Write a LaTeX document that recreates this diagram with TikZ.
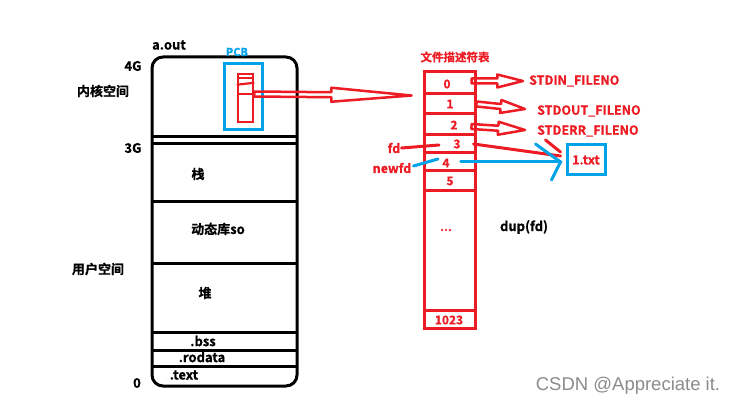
\documentclass[tikz,border=0pt]{standalone}
\usepackage{fontspec}
\setmainfont{Noto Sans CJK SC}[BoldFont={Noto Sans CJK SC Bold}, BoldFeatures={FakeBold=0.8}]
\newfontfamily\wmfont{Liberation Sans}
\usetikzlibrary{calc}
\definecolor{pred}{RGB}{237,28,36}
\definecolor{pblue}{RGB}{0,162,232}
\definecolor{wmgray}{RGB}{140,140,140}
\newcommand\hollowarr[5]{%
  \coordinate (nk) at ($(#1)!#3!(#2)$);
  \draw[pred, line width=2.5pt, line join=round]
    ($(#1)!#4!90:(#2)$) -- ($(nk)!#4!90:(#2)$) -- ($(nk)!#5!90:(#2)$) -- (#2)
    -- ($(nk)!#5!-90:(#2)$) -- ($(nk)!#4!-90:(#2)$) -- ($(#1)!#4!-90:(#2)$) -- cycle;
}
\tikzset{
  bk/.style={font=\fontsize{13}{15}\selectfont\bfseries, text=black, inner sep=1pt},
  rd/.style={font=\fontsize{12.5}{15}\selectfont\bfseries, text=pred, inner sep=1pt},
  num/.style={font=\fontsize{12}{14}\selectfont\bfseries, text=pred, inner sep=1pt},
  cell/.style={draw=pred, line width=3pt, minimum width=51pt, inner sep=0pt},
  memline/.style={line width=3pt, black},
  redln/.style={pred, line width=3pt, line cap=round},
  blueln/.style={pblue, line width=3pt, line cap=round},
}
\begin{document}
\begin{tikzpicture}[x=1pt, y=-1pt]
\useasboundingbox[fill=white] (0,0) rectangle (736,406);
% memory box
\draw[memline, rounded corners=11pt] (152,57) rectangle (297,386);
\foreach \yy in {137,144,202,263,332,350,366} \draw[memline] (152,\yy) -- (298,\yy);
% left labels
\node[bk] (aout) at (169,45) {a.out};
\node[bk] (g4) at (133,66) {4G};
\node[bk] (kern) at (103,91) {内核空间};
\node[bk] (g3) at (133,148) {3G};
\node[bk] (user) at (98,269) {用户空间};
\node[bk] (g0) at (137,383) {0};
% segments
\node[bk] (stack) at (198,174) {栈};
\node[bk] (dso) at (218,229) {动态库so};
\node[bk] (heap) at (205,293) {堆};
\node[bk] (bss) at (203,341) {.bss};
\node[bk] (rodata) at (202,357) {.rodata};
\node[bk] (text) at (184,375) {.text};
% PCB
\node[font=\fontsize{11}{13}\selectfont\bfseries, text=pblue, inner sep=1pt] (pcbl) at (237,52) {PCB};
\node[draw=pblue, line width=3pt, minimum width=38pt, minimum height=66pt, inner sep=0pt] (pcb) at (243.5,96.5) {};
\node[draw=pred, line width=2.5pt, minimum width=15pt, minimum height=48pt, inner sep=0pt] (pcbin) at (245.5,98) {};
\draw[pred, line width=2.2pt] ($(pcbin.north west)+(0,5)$) -- ($(pcbin.north east)+(0,5)$);
\draw[pred, line width=2.2pt] ($(pcbin.north west)+(0,12)$) -- ($(pcbin.north east)+(0,10)$);
\draw[pred, line width=2.2pt] ($(pcbin.north west)+(0,21)$) -- ($(pcbin.north east)+(0,21)$);
% table
\node[font=\fontsize{11.5}{14}\selectfont\bfseries, text=pred, inner sep=1pt] (ttl) at (455,57) {文件描述符表};
\node[cell, minimum height=22pt] (r0) at (449.5,83) {};
\node[cell, minimum height=20pt] (r1) at (449.5,104) {};
\node[cell, minimum height=21pt] (r2) at (449.5,124.5) {};
\node[cell, minimum height=18pt] (r3) at (449.5,144) {};
\node[cell, minimum height=18pt] (r4) at (449.5,162) {};
\node[cell, minimum height=20pt] (r5) at (449.5,181) {};
\node[cell, minimum height=119pt] (rd) at (449.5,250.5) {};
\node[cell, minimum height=18pt] (r1023) at (449.5,319) {};
\node[num] (n0) at (447,84) {0};
\node[num] (n1) at (450,104) {1};
\node[num] (n2) at (454,125) {2};
\node[num] (n3) at (457,144) {3};
\node[num] (n4) at (446,163) {4};
\node[num] (n5) at (450,181) {5};
\node[num] (nd) at (446,230) {...};
\node[num] (n1023) at (449,320) {1023};
% std labels
\node[rd, anchor=west] (stdin) at (528,81) {STDIN\_FILENO};
\node[rd, anchor=west] (stdout) at (536,111) {STDOUT\_FILENO};
\node[rd, anchor=west] (stderr) at (536,131) {STDERR\_FILENO};
% hollow arrows
\hollowarr{$(pcbin.east)+(0,-4)$}{$(r0.south west)+(-11,0)$}{0.49}{2.5pt}{7pt}
\hollowarr{$(r0.east)+(-5,-2)$}{$(stdin.west)+(-5,0)$}{0.5}{2.5pt}{6.5pt}
\hollowarr{$(r1.east)$}{$(stdout.west)+(-11,-2)$}{0.5}{2.5pt}{6.5pt}
\hollowarr{$(r2.east)+(-5,2)$}{$(stderr.west)+(-11,-1)$}{0.5}{2.5pt}{6.5pt}
% fd / newfd
\node[rd] (fd) at (394,148) {fd};
\node[rd] (newfd) at (392,168) {newfd};
\coordinate (fdend) at (439,145);
\coordinate (nfdend) at (438,159);
\draw[redln] (fd.east) -- (fdend);
\draw[blueln] ($(newfd.east)+(1,-2)$) -- (nfdend);
% 1.txt
\node[draw=pblue, line width=3pt, minimum width=38pt, minimum height=30pt, inner sep=0pt] (txt) at (586,160) {};
\node[rd] (txtl) at (586,160) {1.txt};
\draw[redln] ($(r3.east)+(-3,0)$) -- ($(txt.west)+(-5,-4)$);
\draw[redln] ($(txt.west)+(-20,-20)$) -- ($(txt.west)+(-5,-8)$);
\coordinate (btip) at ($(txt.west)+(-5,2)$);
\draw[blueln] ($(n4.east)+(10,-1)$) -- (btip);
\draw[blueln] ($(btip)+(-25,-18)$) -- (btip) -- ($(btip)+(-9,18)$);
% dup
\node[bk] (dup) at (524,227) {dup(fd)};
% watermark
\node[font=\wmfont\fontsize{18.5}{20}\selectfont, text=wmgray, inner sep=0pt] (wm) at (628,386) {CSDN @Appreciate it.};
\end{tikzpicture}
\end{document}
